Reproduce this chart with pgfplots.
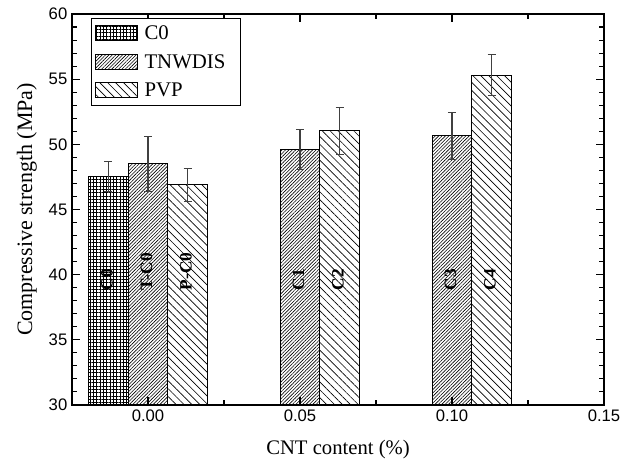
\documentclass[border=0pt]{standalone}
\usepackage{fontspec}
\setmainfont{Liberation Serif}
\setsansfont{Liberation Sans}
\usepackage{pgfplots}
\pgfplotsset{compat=1.18}
\usetikzlibrary{patterns.meta}

\pgfplotsset{
  boxlegend/.style={legend image code/.code={%
    \draw[##1, line width=0.5pt] (0pt,-5pt) rectangle (31pt,6pt);}},
}

\begin{document}
\begin{tikzpicture}
\useasboundingbox (-54pt,-45.75pt) rectangle (420.75pt,303.75pt);
\begin{axis}[
  at={(0pt,0pt)}, anchor=south west,
  scale only axis, width=399pt, height=293.25pt,
  xmin=-0.025, xmax=0.15, ymin=30, ymax=60,
  xtick={0,0.05,0.10,0.15},
  minor xtick={0.025,0.075,0.125},
  ytick={30,35,...,60},
  minor y tick num=4,
  tick align=inside,
  major tick length=6pt, minor tick length=3.5pt,
  tick style={black, line width=0.8pt},
  axis line style={line width=1pt},
  /pgf/number format/assume math mode=true,
  xticklabel style={/pgf/number format/.cd, fixed, fixed zerofill, precision=2},
  ticklabel style={font=\sffamily\fontsize{12.5}{14}\selectfont},
  xlabel={CNT content (\%)},
  ylabel={Compressive strength (MPa)},
  xlabel style={at={(axis description cs:0.5,-0.115)}, anchor=center,
    font=\fontsize{15.5}{17}\selectfont},
  ylabel style={at={(axis description cs:-0.085,0.5)}, anchor=center,
    font=\fontsize{16.5}{18}\selectfont},
  legend style={at={(axis description cs:0,1)}, anchor=north west,
    xshift=14pt, yshift=-3pt, draw=black, line width=0.8pt,
    font=\fontsize{15.6}{17}\selectfont, inner xsep=3pt, inner ysep=3.5pt,
    row sep=5.5pt, cells={anchor=west},
    /tikz/every odd column/.append style={column sep=3.5pt}},
  legend cell align=left,
  error bars/y dir=both, error bars/y explicit,
  error bars/error bar style={black!75, line width=0.8pt},
  error bars/error mark options={rotate=90, mark size=3pt, black!75, line width=0.8pt},
]
% C0 (plain)
\addplot[ybar, bar width=0.013, bar shift=0pt, draw=black, line width=0.6pt,
  pattern={Hatch[angle=0, distance=2.5pt, line width=0.4pt]}, boxlegend]
  coordinates {(-0.013,47.55) +- (0,1.15)};
\addlegendentry{C0}
% TNWDIS
\addplot[ybar, bar width=0.013, bar shift=0pt, draw=black, line width=0.6pt,
  pattern={Lines[angle=45, distance=1.8pt, line width=0.45pt]}, boxlegend]
  coordinates {(0,48.5) +- (0,2.1) (0.05,49.6) +- (0,1.53) (0.10,50.65) +- (0,1.8)};
\addlegendentry{TNWDIS\kern6pt}
% PVP
\addplot[ybar, bar width=0.013, bar shift=0pt, draw=black, line width=0.6pt,
  pattern={Lines[angle=-45, distance=4.2pt, line width=0.5pt]}, boxlegend]
  coordinates {(0.013,46.9) +- (0,1.27) (0.063,51.05) +- (0,1.8) (0.113,55.3) +- (0,1.57)};
\addlegendentry{PVP}

\begin{scope}[every node/.style={rotate=90, anchor=west, inner sep=0pt,
    font=\bfseries\fontsize{13}{13}\selectfont}]
\node at (axis cs:-0.0135,38.8) {C0};
\node at (axis cs:-0.0005,38.8) {T-C0};
\node at (axis cs:0.0125,38.8) {P-C0};
\node at (axis cs:0.0495,38.8) {C1};
\node at (axis cs:0.0625,38.8) {C2};
\node at (axis cs:0.0995,38.8) {C3};
\node at (axis cs:0.1125,38.8) {C4};
\end{scope}
\end{axis}
\end{tikzpicture}
\end{document}
